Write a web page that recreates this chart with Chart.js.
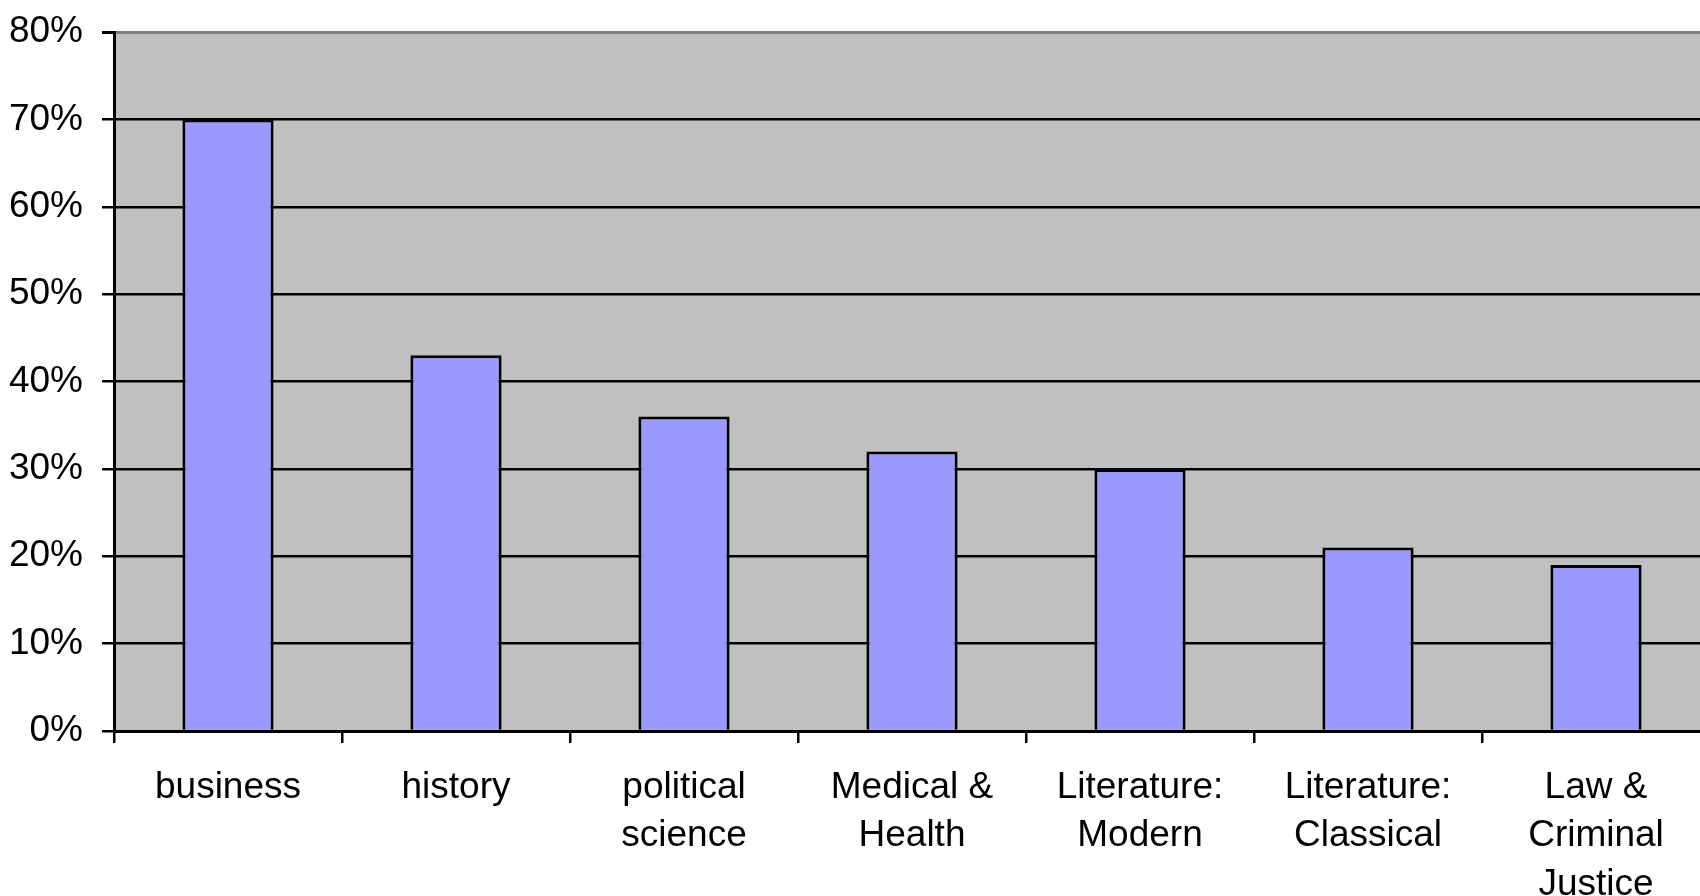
<!DOCTYPE html>
<html>
<head>
<meta charset="utf-8">
<script src="https://cdn.jsdelivr.net/npm/chart.js@4/dist/chart.umd.min.js"></script>
<style>
  html, body { margin: 0; padding: 0; background: #fff; overflow: hidden; }
  #wrap { width: 1712px; height: 896px; }
</style>
</head>
<body>
<div id="wrap"><canvas id="c" width="1712" height="896"></canvas></div>
<script>
// Share of respondents by subject area.
const categories = [
  "business", "history", ["political", "science"], ["Medical &", "Health"],
  ["Literature:", "Modern"], ["Literature:", "Classical"], ["Law &", "Criminal", "Justice"]
];
const shares = [70, 43, 36, 32, 30, 21, 19];
const yTicks = [0, 10, 20, 30, 40, 50, 60, 70, 80];

const FONT = {family: "'Liberation Sans', Arial, sans-serif", size: 37, lineHeight: 1.32};

// grey plot-area fill behind everything
const plotBg = {
  id: "plotBg",
  beforeDraw(chart) {
    const {ctx, chartArea: a} = chart;
    ctx.save(); ctx.fillStyle = "#c0c0c0";
    ctx.fillRect(a.left, a.top, a.right - a.left, a.bottom - a.top);
    ctx.restore();
  }
};

new Chart(document.getElementById("c"), {
  type: "bar",
  data: {labels: categories, datasets: [{
    data: shares, backgroundColor: "#9999ff", borderColor: "#000", borderWidth: 3,
    categoryPercentage: 1, barPercentage: 0.40
  }]},
  options: {
    responsive: false, animation: false,
    layout: {padding: {top: 32, right: 2, left: 0, bottom: 0}},
    plugins: {legend: {display: false}, tooltip: {enabled: false}},
    scales: {
      x: {
        grid: {display: true, drawOnChartArea: false, color: "#000", lineWidth: 2.5, tickLength: 12, offset: true},
        border: {color: "#000", width: 3},
        ticks: {color: "#000", font: FONT, padding: 20, maxRotation: 0, autoSkip: false},
        afterFit: s => { s.height = 165; s.paddingLeft = 0; s.paddingRight = 0; }
      },
      y: {
        min: 0, max: 80,
        afterBuildTicks: s => { s.ticks = yTicks.map(v => ({value: v})); },
        grid: {
          color: c => c.tick && c.tick.value === 80 ? "#808080" : "#000",
          lineWidth: c => c.tick && c.tick.value === 80 ? 3 : 2.5,
          tickColor: "#000", tickLength: 12
        },
        border: {color: "#000", width: 3},
        ticks: {color: "#000", font: FONT, padding: 19, callback: v => v + "%"},
        afterFit: s => { s.width = 114; s.paddingTop = 0; s.paddingBottom = 0; }
      }
    }
  },
  plugins: [plotBg]
});
</script>
</body>
</html>
